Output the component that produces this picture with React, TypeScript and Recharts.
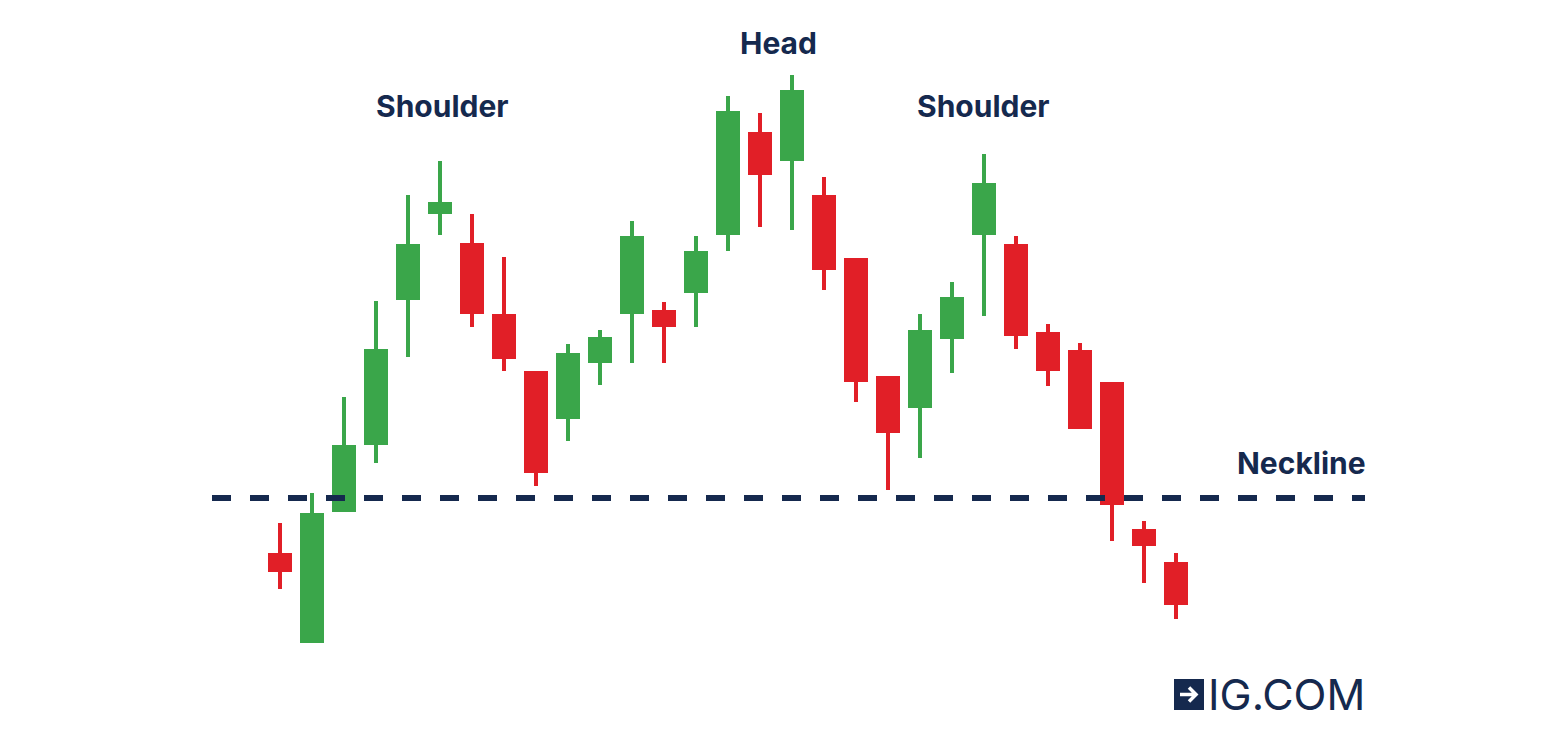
import React from 'react';
import { ComposedChart, Bar, XAxis, YAxis, ReferenceLine } from 'recharts';

// Candle values (arbitrary price units)
const opens = [107, 17, 148, 215, 360, 446, 417, 346, 289, 241, 297, 346, 350, 367, 425, 528, 499, 465, 402, 284, 252, 321, 425, 416, 328, 310, 278, 131, 98];
const closes = [88, 147, 215, 311, 416, 458, 346, 301, 187, 307, 323, 424, 333, 409, 549, 485, 570, 390, 278, 227, 330, 363, 477, 324, 289, 231, 155, 114, 55];
const highs = [137, 167, 263, 359, 465, 499, 446, 403, 289, 316, 330, 439, 358, 424, 564, 547, 585, 483, 402, 284, 346, 378, 506, 424, 336, 317, 278, 139, 107];
const lows = [71, 17, 148, 197, 303, 425, 333, 289, 174, 219, 275, 297, 297, 333, 409, 433, 430, 370, 258, 170, 202, 287, 344, 311, 274, 231, 119, 77, 41];
const neckline = 162;

const GREEN = '#3aa64a';
const RED = '#e11f27';
const NAVY = '#15294e';

const data = opens.map((open, i) => ({
    name: `c${i + 1}`,
    open,
    close: closes[i],
    high: highs[i],
    low: lows[i],
}));

// Draws one candle inside the range bar Recharts gives us ([low, high])
function Candle(props: any) {
    const { x, y, width, height, payload } = props;
    if (x == null || y == null) return null;
    const { open, close, high, low } = payload;
    const h = Math.abs(height);
    const top = Math.min(y, y + height);
    const ratio = h / (high - low);
    const cx = x + width / 2;
    const bodyTop = top + (high - Math.max(open, close)) * ratio;
    const bodyH = Math.max(Math.abs(open - close) * ratio, 1);
    const color = close >= open ? GREEN : RED;
    return (
        <g>
            <rect x={cx - 2} y={top} width={4} height={h} fill={color} />
            <rect x={x} y={bodyTop} width={width} height={bodyH} fill={color} />
        </g>
    );
}

const labelStyle: React.CSSProperties = {
    position: 'absolute',
    fontFamily: 'Inter, sans-serif',
    fontWeight: 700,
    fontSize: 30,
    color: NAVY,
    lineHeight: 1,
    whiteSpace: 'nowrap',
};

export default function App() {
    return (
        <div style={{ position: 'absolute', left: 0, top: 0, width: 1555, height: 744, background: '#fff' }}>
            <ComposedChart
                width={1555}
                height={744}
                data={data}
                margin={{ top: 60, right: 190, left: 212, bottom: 84 }}
            >
                <XAxis dataKey="name" hide padding={{ left: 52, right: 173 }} />
                <YAxis hide domain={[0, 600]} allowDataOverflow />
                <ReferenceLine
                    y={neckline}
                    stroke={NAVY}
                    strokeWidth={6}
                    strokeDasharray="19 19"
                />
                <Bar
                    dataKey={(d: any) => [d.low, d.high]}
                    barSize={24}
                    shape={<Candle />}
                    isAnimationActive={false}
                />
            </ComposedChart>

            <div style={{ ...labelStyle, left: 740, top: 28 }}>Head</div>
            <div style={{ ...labelStyle, left: 376, top: 91 }}>Shoulder</div>
            <div style={{ ...labelStyle, left: 917, top: 91 }}>Shoulder</div>
            <div style={{ ...labelStyle, left: 1237, top: 448 }}>Neckline</div>

            <div style={{ position: 'absolute', left: 1174, top: 673, display: 'flex', alignItems: 'center' }}>
                <svg width={30} height={31} viewBox="0 0 30 31">
                    <rect width={30} height={31} fill={NAVY} />
                    <path d="M6 15.5 H22 M15 8.5 L22 15.5 L15 22.5" stroke="#fff" strokeWidth={3.5} fill="none" />
                </svg>
                <span
                    style={{
                        marginLeft: 4,
                        fontFamily: 'Inter, sans-serif',
                        fontWeight: 400,
                        fontSize: 43,
                        color: NAVY,
                        lineHeight: 1,
                        letterSpacing: 0,
                    }}
                >
                    IG.COM
                </span>
            </div>
        </div>
    );
}
